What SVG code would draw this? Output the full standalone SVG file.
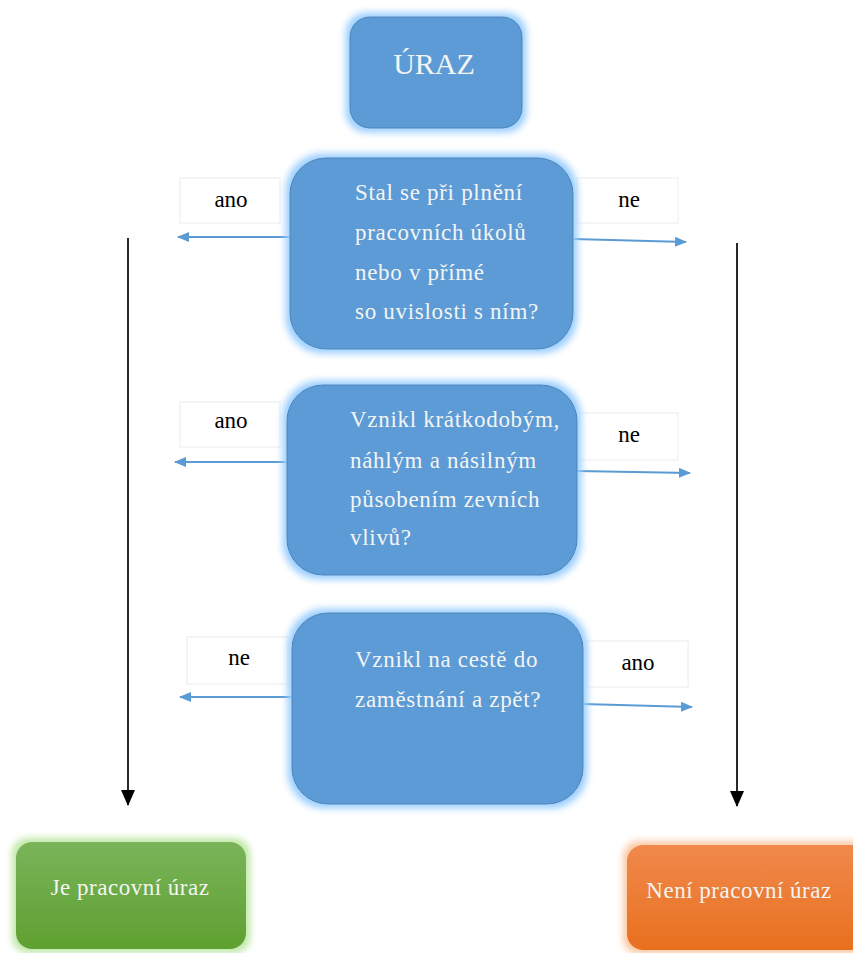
<svg xmlns="http://www.w3.org/2000/svg" width="853" height="953" viewBox="0 0 853 953">
<style>
.blue{fill:#5b9bd5;stroke:#4a82b8;stroke-width:1}
.qt{font-family:"Liberation Serif","Times New Roman",serif;font-size:23px;letter-spacing:0.7px;fill:#f4f4f4}
.lbl{font-family:"Liberation Serif","Times New Roman",serif;font-size:23px;fill:#000}
.lbox{fill:#fff;stroke:#ececec;stroke-width:1}
.bt{font-family:"Liberation Serif","Times New Roman",serif;font-size:23px;letter-spacing:0.5px;fill:#f4f4f4}
.ba{fill:none;stroke:#5b9bd5;stroke-width:2;marker-end:url(#ah)}
.ka{fill:none;stroke:#111;stroke-width:1.8;marker-end:url(#kh)}
</style>
<defs>
<filter id="glowB" x="-20%" y="-20%" width="140%" height="140%">
<feMorphology in="SourceAlpha" operator="dilate" radius="4" result="d"/>
<feGaussianBlur in="d" stdDeviation="3.5" result="b"/>
<feFlood flood-color="#9ccfff"/>
<feComposite in2="b" operator="in" result="g"/>
<feMerge><feMergeNode in="g"/><feMergeNode in="SourceGraphic"/></feMerge>
</filter>
<filter id="glowG" x="-20%" y="-20%" width="140%" height="140%">
<feMorphology in="SourceAlpha" operator="dilate" radius="4" result="d"/>
<feGaussianBlur in="d" stdDeviation="3.5" result="b"/>
<feFlood flood-color="#bfe8a6"/>
<feComposite in2="b" operator="in" result="g"/>
<feMerge><feMergeNode in="g"/><feMergeNode in="SourceGraphic"/></feMerge>
</filter>
<filter id="glowO" x="-20%" y="-20%" width="140%" height="140%">
<feMorphology in="SourceAlpha" operator="dilate" radius="4" result="d"/>
<feGaussianBlur in="d" stdDeviation="3.5" result="b"/>
<feFlood flood-color="#fbc9a4"/>
<feComposite in2="b" operator="in" result="g"/>
<feMerge><feMergeNode in="g"/><feMergeNode in="SourceGraphic"/></feMerge>
</filter>
<linearGradient id="gG" x1="0" y1="0" x2="0" y2="1">
<stop offset="0" stop-color="#79b45a"/><stop offset="1" stop-color="#5fa030"/>
</linearGradient>
<linearGradient id="gO" x1="0" y1="0" x2="0" y2="1">
<stop offset="0" stop-color="#f0894c"/><stop offset="1" stop-color="#e8701e"/>
</linearGradient>
<marker id="ah" markerWidth="12" markerHeight="10" refX="11" refY="5" orient="auto" markerUnits="userSpaceOnUse">
<path d="M0,0 L12,5 L0,10 Z" fill="#5b9bd5"/>
</marker>
<marker id="kh" markerWidth="14" markerHeight="16" refX="7" refY="15" orient="0" markerUnits="userSpaceOnUse">
<path d="M0,0 L14,0 L7,16 Z" fill="#000"/>
</marker>
</defs>

<g id="connectors">
<line class="ka" x1="128" y1="238" x2="128" y2="805"/>
<line class="ka" x1="737" y1="243" x2="737" y2="806"/>
<line class="ba" x1="291" y1="237" x2="178" y2="237"/>
<line class="ba" x1="573" y1="239" x2="686" y2="242"/>
<line class="ba" x1="288" y1="462" x2="175" y2="462"/>
<line class="ba" x1="577" y1="471" x2="690" y2="473"/>
<line class="ba" x1="293" y1="697" x2="180" y2="697"/>
<line class="ba" x1="583" y1="704" x2="692" y2="707"/>
</g>

<g id="label-1-ano"><rect class="lbox" x="180" y="178" width="100" height="45"/><text class="lbl" x="231" y="207" text-anchor="middle">ano</text></g>
<g id="label-1-ne"><rect class="lbox" x="577" y="178" width="101" height="45"/><text class="lbl" x="629" y="207" text-anchor="middle">ne</text></g>
<g id="label-2-ano"><rect class="lbox" x="180" y="402" width="100" height="45"/><text class="lbl" x="231" y="428" text-anchor="middle">ano</text></g>
<g id="label-2-ne"><rect class="lbox" x="578" y="413" width="100" height="47"/><text class="lbl" x="629" y="442" text-anchor="middle">ne</text></g>
<g id="label-3-ne"><rect class="lbox" x="187" y="637" width="101" height="47"/><text class="lbl" x="239" y="665" text-anchor="middle">ne</text></g>
<g id="label-3-ano"><rect class="lbox" x="587" y="641" width="101" height="46"/><text class="lbl" x="638" y="670" text-anchor="middle">ano</text></g>

<g id="uraz">
<rect class="blue" filter="url(#glowB)" x="350" y="17" width="172" height="111" rx="20"/>
<text x="434" y="74" text-anchor="middle" style="font-family:'Liberation Serif','Times New Roman',serif;font-size:30px;fill:#f4f4f4">ÚRAZ</text>
</g>

<g id="q1">
<rect class="blue" filter="url(#glowB)" x="290" y="158" width="283" height="191" rx="36"/>
<text class="qt" x="355" y="200">Stal se při plnění</text>
<text class="qt" x="355" y="240">pracovních úkolů</text>
<text class="qt" x="355" y="280">nebo v  přímé</text>
<text class="qt" x="355" y="319">so uvislosti s ním?</text>
</g>

<g id="q2">
<rect class="blue" filter="url(#glowB)" x="287" y="385" width="290" height="190" rx="36"/>
<text class="qt" x="350" y="427">Vznikl krátkodobým,</text>
<text class="qt" x="350" y="468">náhlým a násilným</text>
<text class="qt" x="350" y="507">působením zevních</text>
<text class="qt" x="350" y="545">vlivů?</text>
</g>

<g id="q3">
<rect class="blue" filter="url(#glowB)" x="292" y="613" width="291" height="191" rx="36"/>
<text class="qt" x="355" y="667">Vznikl na cestě do</text>
<text class="qt" x="355" y="707">zaměstnání a zpět?</text>
</g>

<g id="je">
<rect filter="url(#glowG)" fill="url(#gG)" x="16" y="842" width="230" height="107" rx="16"/>
<text class="bt" x="130" y="895" text-anchor="middle">Je pracovní úraz</text>
</g>

<g id="neni">
<rect filter="url(#glowO)" fill="url(#gO)" x="627" y="845" width="240" height="105" rx="16"/>
<text class="bt" x="739" y="898" text-anchor="middle">Není pracovní úraz</text>
</g>
</svg>
